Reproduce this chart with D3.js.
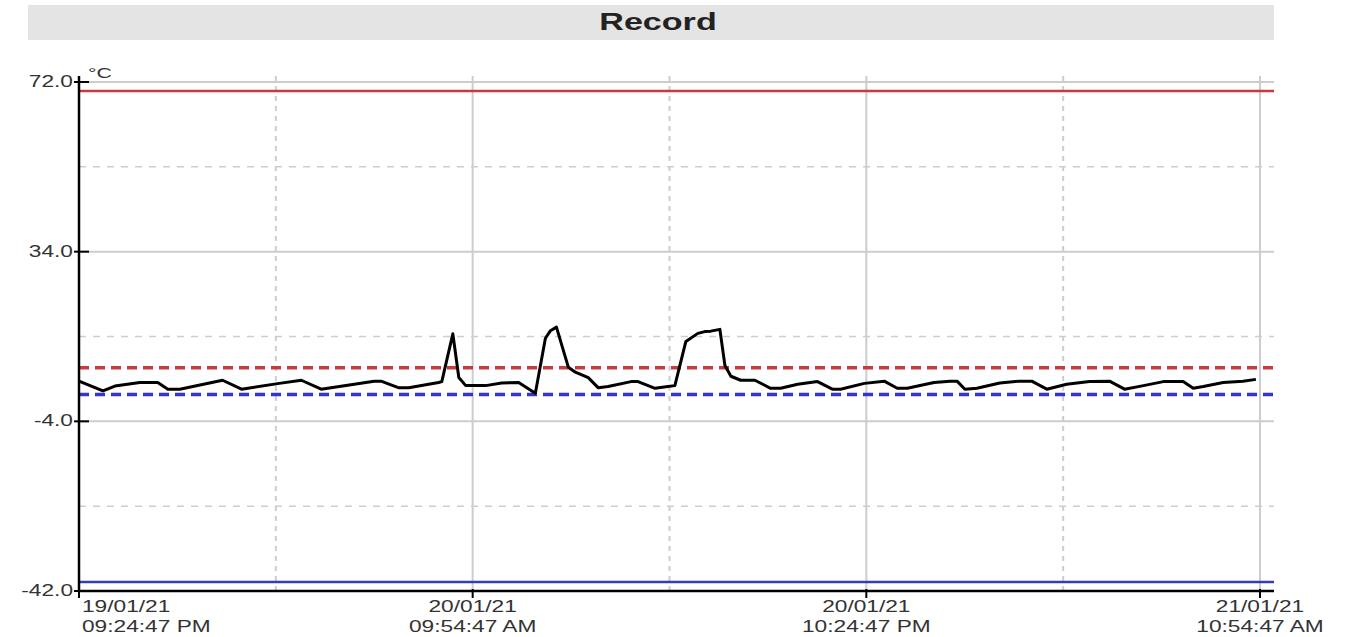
<!DOCTYPE html>
<html lang="en">
<head>
<meta charset="UTF-8">
<script src="https://cdn.jsdelivr.net/npm/d3@7"></script>
<title>Record</title>
<style>
  body { margin: 0; background: #fff; }
  text { font-family: Arial, "Liberation Sans", sans-serif; fill: #333; }
</style>
</head>
<body>
<svg width="1364" height="637"></svg>
<script>
// chart values
var title = "Record";
var unit = "°C";
var startTime = new Date(2021, 0, 19, 21, 24, 47);

// hours since start / temperature in °C
var hours = [0.0, 0.76, 1.14, 1.93, 2.5, 2.82, 3.2, 4.56, 5.16, 6.36, 7.06, 7.69, 9.37, 9.59,
             10.16, 10.47, 11.42, 11.52, 11.87, 12.06, 12.28, 12.91, 13.42, 13.96, 14.49, 14.81,
             14.97, 15.16, 15.54, 15.76, 16.17, 16.49, 16.8, 17.53, 17.75, 18.29, 18.7, 18.92,
             19.27, 19.65, 19.87, 20.06, 20.35, 20.51, 20.7, 21.01, 21.46, 21.96, 22.28, 22.82,
             23.45, 23.92, 24.18, 24.94, 25.57, 25.98, 26.3, 27.15, 27.66, 27.88, 28.13, 28.51,
             29.24, 29.84, 30.25, 30.73, 31.36, 32.09, 32.72, 33.2, 33.8, 34.43, 35.06, 35.38,
             35.7, 36.33, 36.96, 37.37];
var temps = [5.0, 2.8, 3.9, 4.7, 4.7, 3.2, 3.2, 5.2, 3.2, 4.5, 5.2, 3.2, 5.0, 5.0,
             3.5, 3.5, 4.7, 4.9, 15.6, 5.8, 4.0, 4.0, 4.6, 4.7, 2.3, 14.6,
             16.3, 17.1, 8.1, 7.0, 5.8, 3.5, 3.8, 4.9, 4.9, 3.4, 3.8, 4.0,
             13.9, 15.7, 16.1, 16.2, 16.6, 8.5, 6.1, 5.2, 5.2, 3.4, 3.4, 4.3,
             4.9, 3.2, 3.2, 4.5, 5.0, 3.4, 3.4, 4.7, 5.0, 5.0, 3.2, 3.4,
             4.6, 5.0, 5.0, 3.2, 4.3, 4.9, 5.0, 3.2, 4.0, 4.9, 4.9, 3.4,
             3.8, 4.7, 5.0, 5.4];

var yTicks = [-42, -4, 34, 72];
var yMinor = [-23, 15, 53];
var xTickHours = [0, 12.5, 25, 37.5];
var xMinorHours = [6.25, 18.75, 31.25];

var limitValues = [70, 8, 2, -40];
var limitColors = ["#c93a3e", "#c93a3e", "#3434d4", "#3a3ab4"];
var limitDashed = [false, true, true, false];

var svg = d3.select("svg");
var mLeft = 79, mRight = 1260, plotRight = 1274, mTop = 82, mBottom = 591, plotTop = 76;
var sx = 1.42; // the reference text is drawn wide

function at(h) { return new Date(startTime.getTime() + h * 3600000); }

var x = d3.scaleTime()
          .domain([at(0), at(37.5)])
          .range([mLeft, mRight]);
var y = d3.scaleLinear()
          .domain([-42, 72])
          .range([mBottom, mTop]);

// title bar
svg.append("rect")
   .attr("x", 28).attr("y", 5)
   .attr("width", plotRight - 28).attr("height", 35)
   .attr("fill", "#e4e4e4");
svg.append("text")
   .attr("transform", "translate(" + 658 + "," + 30 + ") scale(" + sx + ",1)")
   .attr("text-anchor", "middle")
   .style("font-weight", "bold")
   .style("font-size", "24px")
   .style("fill", "#222")
   .text(title);

// grid
var grid = svg.append("g");
grid.selectAll(".hmaj").data(yTicks.slice(1)).enter().append("line")
    .attr("x1", mLeft).attr("x2", plotRight)
    .attr("y1", function(d) { return y(d); }).attr("y2", function(d) { return y(d); })
    .attr("stroke", "#cdcdcd").attr("stroke-width", 2);
grid.selectAll(".hmin").data(yMinor).enter().append("line")
    .attr("x1", mLeft).attr("x2", plotRight)
    .attr("y1", function(d) { return y(d); }).attr("y2", function(d) { return y(d); })
    .attr("stroke", "#cdcdcd").attr("stroke-width", 1.5)
    .attr("stroke-dasharray", "7,7");
grid.selectAll(".vmaj").data(xTickHours.slice(1)).enter().append("line")
    .attr("x1", function(d) { return x(at(d)); }).attr("x2", function(d) { return x(at(d)); })
    .attr("y1", plotTop).attr("y2", mBottom)
    .attr("stroke", "#cdcdcd").attr("stroke-width", 2);
grid.selectAll(".vmin").data(xMinorHours).enter().append("line")
    .attr("x1", function(d) { return x(at(d)); }).attr("x2", function(d) { return x(at(d)); })
    .attr("y1", plotTop).attr("y2", mBottom)
    .attr("stroke", "#cdcdcd").attr("stroke-width", 2)
    .attr("stroke-dasharray", "5,5");

// alarm limits
svg.append("g").selectAll("line").data(limitValues).enter().append("line")
   .attr("x1", mLeft).attr("x2", plotRight)
   .attr("y1", function(d) { return y(d); }).attr("y2", function(d) { return y(d); })
   .attr("stroke", function(d, i) { return limitColors[i]; })
   .attr("stroke-width", function(d, i) { return limitDashed[i] ? 3.5 : 2.5; })
   .attr("stroke-dasharray", function(d, i) { return limitDashed[i] ? "10,6" : null; });

// record line
var line = d3.line()
             .x(function(d, i) { return x(at(hours[i])); })
             .y(function(d) { return y(d); });
svg.append("path")
   .datum(temps)
   .attr("fill", "none")
   .attr("stroke", "#000")
   .attr("stroke-width", 3)
   .attr("stroke-linejoin", "round")
   .attr("d", line);

// axes
svg.append("line")
   .attr("x1", mLeft).attr("x2", mLeft).attr("y1", plotTop).attr("y2", mBottom)
   .attr("stroke", "#000").attr("stroke-width", 2.5);
svg.append("line")
   .attr("x1", mLeft).attr("x2", plotRight).attr("y1", mBottom).attr("y2", mBottom)
   .attr("stroke", "#000").attr("stroke-width", 2.5);

svg.append("g").selectAll("line").data(yTicks).enter().append("line")
   .attr("x1", mLeft - 5).attr("x2", mLeft + 10)
   .attr("y1", function(d) { return y(d); }).attr("y2", function(d) { return y(d); })
   .attr("stroke", "#000").attr("stroke-width", 2);
svg.append("g").selectAll("text").data(yTicks).enter().append("text")
   .attr("transform", function(d) { return "translate(" + (mLeft - 6) + "," + (y(d) + 5) + ") scale(" + sx + ",1)"; })
   .attr("text-anchor", "end")
   .style("font-size", "16px")
   .text(function(d) { return d3.format(".1f")(d).replace("−", "-"); });

svg.append("text")
   .attr("transform", "translate(" + (mLeft + 9) + "," + 78 + ") scale(" + sx + ",1)")
   .style("font-size", "15px")
   .text(unit);

var fDate = d3.timeFormat("%d/%m/%y"), fTime = d3.timeFormat("%I:%M:%S %p");
svg.append("g").selectAll("line").data(xTickHours).enter().append("line")
   .attr("x1", function(d) { return x(at(d)); }).attr("x2", function(d) { return x(at(d)); })
   .attr("y1", mBottom - 2).attr("y2", mBottom + 7)
   .attr("stroke", "#000").attr("stroke-width", 2);
var xl = svg.append("g").selectAll("g").data(xTickHours).enter().append("g")
   .attr("transform", function(d, i) {
       var px = x(at(d)) + (i === 0 ? 3 : 0);
       return "translate(" + px + "," + mBottom + ") scale(" + sx + ",1)";
   });
xl.append("text")
  .attr("y", 21)
  .attr("text-anchor", function(d, i) { return i === 0 ? "start" : "middle"; })
  .style("font-size", "16px")
  .text(function(d) { return fDate(at(d)); });
xl.append("text")
  .attr("y", 41)
  .attr("text-anchor", function(d, i) { return i === 0 ? "start" : "middle"; })
  .style("font-size", "16px")
  .text(function(d) { return fTime(at(d)); });
</script>
</body>
</html>
